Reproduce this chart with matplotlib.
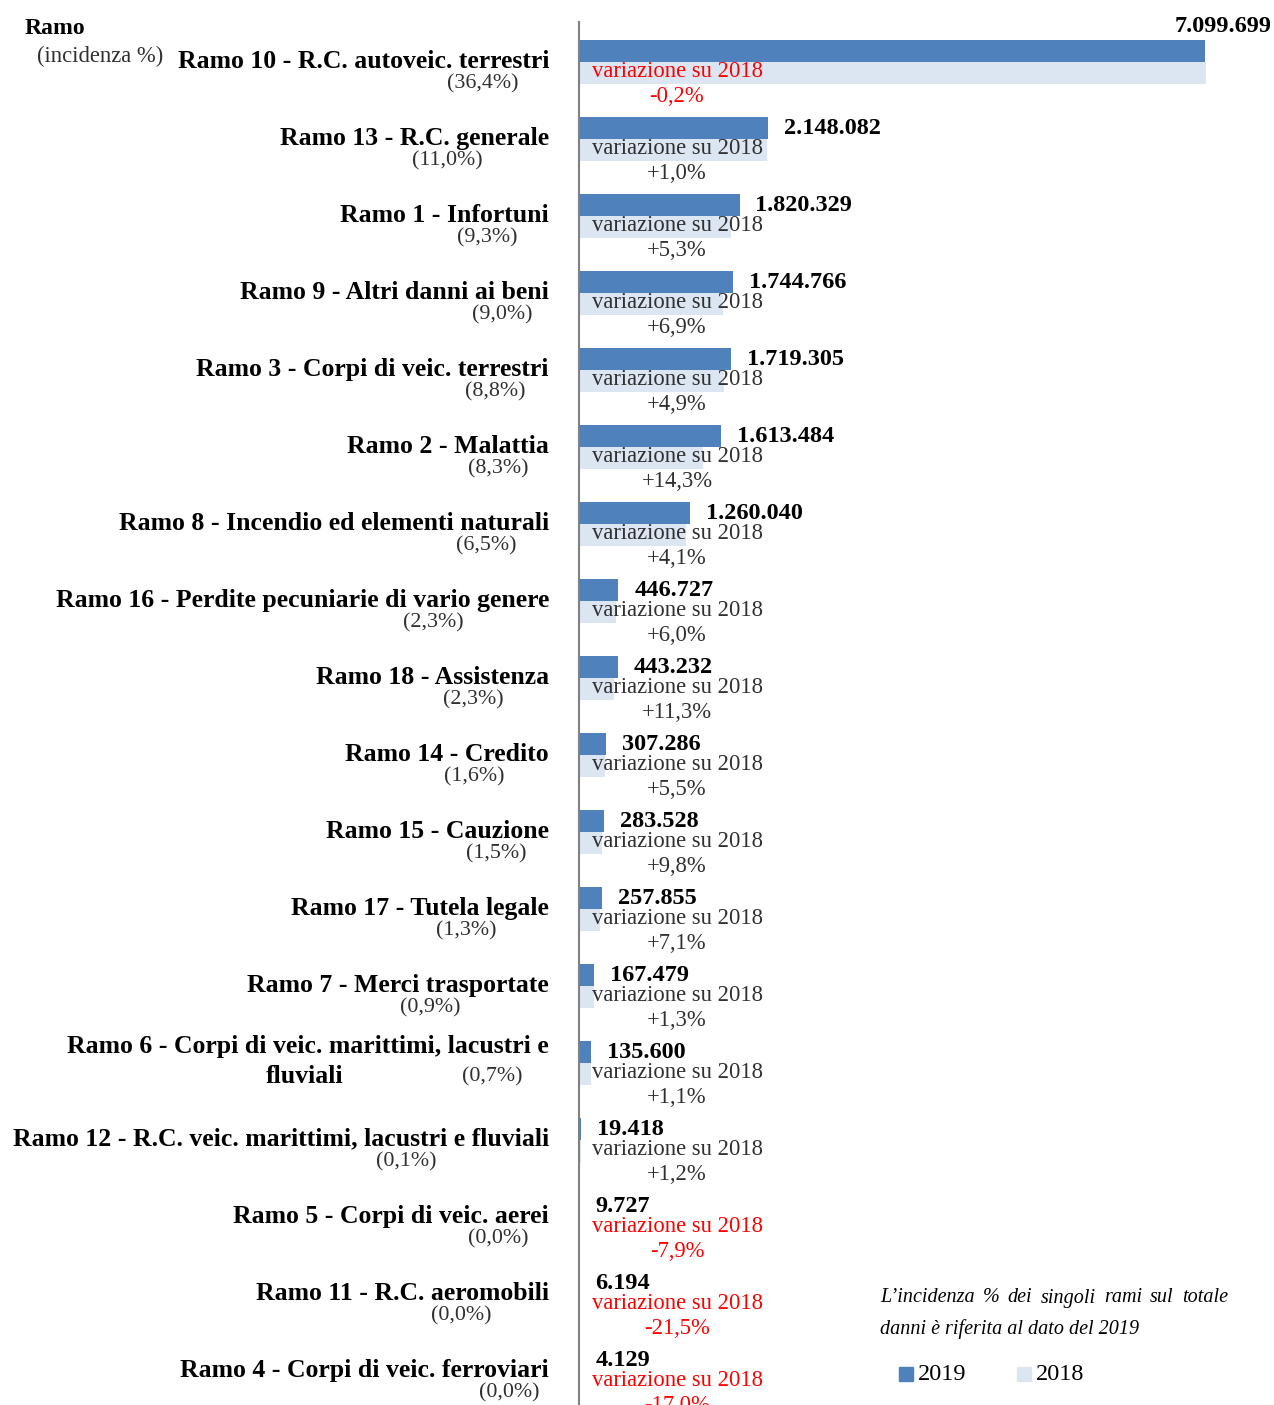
import matplotlib
matplotlib.use("Agg")
import matplotlib.pyplot as plt
from matplotlib.patches import Rectangle
from matplotlib.transforms import blended_transform_factory

W, H = 1274, 1405

rami = [
    "Ramo 10 - R.C. autoveic. terrestri",
    "Ramo 13 - R.C. generale",
    "Ramo 1 - Infortuni",
    "Ramo 9 - Altri danni ai beni",
    "Ramo 3 - Corpi di veic. terrestri",
    "Ramo 2 - Malattia",
    "Ramo 8 - Incendio ed elementi naturali",
    "Ramo 16 - Perdite pecuniarie di vario genere",
    "Ramo 18 - Assistenza",
    "Ramo 14 - Credito",
    "Ramo 15 - Cauzione",
    "Ramo 17 - Tutela legale",
    "Ramo 7 - Merci trasportate",
    "Ramo 6 - Corpi di veic. marittimi, lacustri e\nfluviali",
    "Ramo 12 - R.C. veic. marittimi, lacustri e fluviali",
    "Ramo 5 - Corpi di veic. aerei",
    "Ramo 11 - R.C. aeromobili",
    "Ramo 4 - Corpi di veic. ferroviari",
]
incidenza = ["36,4%", "11,0%", "9,3%", "9,0%", "8,8%", "8,3%", "6,5%", "2,3%", "2,3%",
             "1,6%", "1,5%", "1,3%", "0,9%", "0,7%", "0,1%", "0,0%", "0,0%", "0,0%"]
danni_2019 = [7099699, 2148082, 1820329, 1744766, 1719305, 1613484, 1260040, 446727, 443232,
              307286, 283528, 257855, 167479, 135600, 19418, 9727, 6194, 4129]
danni_2018 = [7113927, 2126814, 1728707, 1632148, 1639003, 1411622, 1210413, 421441, 398232,
              291266, 258222, 240761, 165330, 134125, 19188, 10561, 7890, 4975]
variazione = [-0.2, 1.0, 5.3, 6.9, 4.9, 14.3, 4.1, 6.0, 11.3,
              5.5, 9.8, 7.1, 1.3, 1.1, 1.2, -7.9, -21.5, -17.0]

# where the "(x,x%)" notes sit, in pixels from the left edge
pct_x = [483, 447, 487, 502, 495, 498, 486, 433, 473, 474, 496, 466, 430, 492, 406, 498, 461, 509]

C2019 = "#4F81BD"
C2018 = "#DCE6F2"
GREY = "#303030"
SERIF = ["Liberation Serif", "DejaVu Serif"]


def fmt_it(v):
    return f"{v:,}".replace(",", ".")


def fmt_var(v):
    return f"{v:+.1f}%".replace(".", ",")


plt.rcParams["font.family"] = SERIF

fig = plt.figure(figsize=(W / 100, H / 100), dpi=100)
fig.patch.set_facecolor("white")

ax = fig.add_axes([579 / W, 0, (W - 579) / W, (H - 22) / H])
step = 77.0
ax.set_ylim((H - 62) / step, (22 - 62) / step)
ax.set_xlim(0, 7099699 * (W - 579) / 626)

n = len(rami)
ys = list(range(n))
h = 0.285
ax.barh([y - h / 2 for y in ys], danni_2019, height=h, color=C2019, zorder=2)
ax.barh([y + h / 2 for y in ys], danni_2018, height=h, color=C2018, zorder=1)

for s in ["top", "right", "bottom"]:
    ax.spines[s].set_visible(False)
ax.spines["left"].set_color("#808080")
ax.spines["left"].set_linewidth(1.5)
ax.set_xticks([])
ax.set_yticks([])
ax.patch.set_alpha(0)

var_x = 677 / W
ftrans = blended_transform_factory(fig.transFigure, ax.transData)

for i, (lab, inc, v19, var) in enumerate(zip(rami, incidenza, danni_2019, variazione)):
    col = "#FF0000" if var < 0 else GREY
    # value label
    if i == 0:
        ax.text(1272 / W, (27 - 62) / step, fmt_it(v19), transform=ftrans,
                ha="right", va="center", fontsize=17.5, fontweight="bold")
    else:
        ax.annotate(fmt_it(v19), (v19, i - h / 2), xytext=(11.5, 0),
                    textcoords="offset points", ha="left", va="center",
                    fontsize=17.5, fontweight="bold", zorder=3)
    ax.text(var_x, i + 0.12, "variazione su 2018", transform=ftrans,
            ha="center", va="center", fontsize=16.3, color=col, zorder=3)
    ax.text(var_x, i + 0.45, fmt_var(var), transform=ftrans,
            ha="center", va="center", fontsize=16.3, color=col, zorder=3)

    # category label
    if "\n" in lab:
        first, second = lab.split("\n")
        ax.text(549 / W, i - 0.22, first, transform=ftrans, ha="right", va="center",
                fontsize=18.5, fontweight="bold")
        ax.text(305 / W, i + 0.18, second, transform=ftrans, ha="center", va="center",
                fontsize=18.5, fontweight="bold")
        ax.text(pct_x[i] / W, i + 0.18, f"({inc})", transform=ftrans,
                ha="center", va="center", fontsize=15.8, color=GREY)
    else:
        ax.text(549 / W, i - 0.01, lab, transform=ftrans, ha="right", va="center",
                fontsize=18.5, fontweight="bold")
        ax.text(pct_x[i] / W, i + 0.28, f"({inc})", transform=ftrans,
                ha="center", va="center", fontsize=15.8, color=GREY)

# header
fig.text(25 / W, 1 - 28 / H, "Ramo", ha="left", va="center", fontsize=17, fontweight="bold")
fig.text(37 / W, 1 - 56 / H, "(incidenza %)", ha="left", va="center", fontsize=16.3,
         color=GREY)

# note, first line justified between 880 and 1228 px
renderer = fig.canvas.get_renderer()
words = "L’incidenza % dei singoli rami sul totale".split()
objs = [fig.text(0, 1 - 1298 / H, w, ha="left", va="center", fontsize=14.5,
                 style="italic") for w in words]
widths = [o.get_window_extent(renderer).width for o in objs]
gap = (1228 - 880 - sum(widths)) / (len(words) - 1)
xpos = 880
for o, wd in zip(objs, widths):
    o.set_x(xpos / W)
    xpos += wd + gap
fig.text(880 / W, 1 - 1329 / H, "danni è riferita al dato del 2019", ha="left",
         va="center", fontsize=14.5, style="italic")

# legend
for x0, col, lab in [(899, C2019, "2019"), (1017, C2018, "2018")]:
    fig.patches.append(Rectangle((x0 / W, 1 - 1381 / H), 14 / W, 14 / H,
                                 transform=fig.transFigure, color=col))
    fig.text((x0 + 19) / W, 1 - 1374 / H, lab, ha="left", va="center", fontsize=17.5)

fig.savefig("out.png", dpi=100, facecolor="white")
